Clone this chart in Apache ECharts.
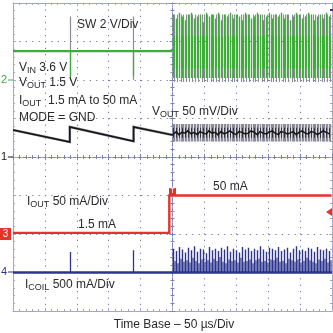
<!DOCTYPE html>
<html><head><meta charset="utf-8">
<script src="https://cdn.jsdelivr.net/npm/echarts@6/dist/echarts.min.js"></script>
<style>html,body{margin:0;padding:0;background:#fff}#c{width:333px;height:333px}</style>
</head><body><div id="c"></div>
<script>
// ---- scope settings (time in µs relative to trigger, 50 µs/div) ----
const timeMin = -250, timeMax = 250, timePerDiv = 50;
const swVPerDiv = 2, swPosDiv = 2;          // CH2 SW
const voutMvPerDiv = 50, voutPosDiv = 0;    // CH1 VOUT (AC)
const ioutMaPerDiv = 50, ioutPosDiv = -2;   // CH3 IOUT
const icoilMaPerDiv = 500, icoilPosDiv = -3;// CH4 ICOIL

// ---- SW node (V) ----
const swPreT = [-250, 0];
const swPreV = [1.5, 1.5];
const swPreSpikeT = [-161, -61];
const swPreSpikeLo = 0, swPreSpikeHi = 3.3;   // grey persistence spike
const swPreDipLo = 0.2, swPreDipHi = 1.5;     // green dip
const swGreenT = [1,6,10,15,20,24,29,34,39,43,48,53,57,62,67,71,76,81,86,90,95,100,104,109,114,119,123,128,133,137,142,147,151,156,161,166,170,175,180,184,189,194,198,203,208,213,217,222,227,231,236,241,246];
const swGreenTop = [3.4,3.2,3.5,3.3,3.1,3.4,3.5,3.2,3.3,3.4,3.0,3.5,3.3,3.4,3.2,3.5,3.1,3.4,3.3,3.5,3.2,3.4,3.3,3.1,3.5,3.4,3.2,3.3,3.5,3.4,3.1,3.3,3.5,3.2,3.4,3.3,3.5,3.2,3.4,3.1,3.3,3.5,3.4,3.2,3.3,3.5,3.4,3.1,3.3,3.4,3.2,3.5,3.3];
const swGreenLow = 0.1;
const swGrayT = [3,8,13,17,22,27,31,36,41,46,50,55,60,64,69,74,78,83,88,93,97,102,107,111,116,121,126,130,135,140,144,149,154,158,163,168,173,177,182,187,191,196,201,205,210,215,220,224,229,234,238,243,248];
const swGrayLo = -0.1, swGrayHi = 3.4;
const swRingLo = 0.6, swRingHi = 2.3;

// ---- VOUT ripple (mV, AC coupled) ----
const voutPreT = [-250, -161, -161, -61, -61, 0];
const voutPreV = [35, 19.5, 39, 20.5, 39, 28.5];
const voutPostV = [30,33,29,32,31,34,30,32,29,33,31,30,34,31,32,29,33,30,32,34,31,29,33,32,30,31,34,32,29,33,31,30,32,34,31,29,33,32,30,31,33,29,32,34,31,30,33,32,29,31,34,32,30];
const voutGrayLo = 20, voutGrayHi = 43;
const voutDarkLo = 25, voutDarkHi = 38;

// ---- IOUT (mA) ----
const ioutT = [-250, -5, -5, 249];
const ioutV = [1.5, 1.5, 50, 50];

// ---- ICOIL (mA) ----
const icoilPreT = [-250, 0];
const icoilPreV = [0, 0];
const icoilPreSpikeT = [-161, -61];
const icoilPreSpikeV = [266, 290];
const icoilPeak = [310,280,330,300,260,320,290,340,270,310,300,250,330,290,310,280,320,300,340,270,310,290,260,330,300,320,280,310,290,340,300,270,320,310,290,330,280,300,320,260,310,340,290,300,280,320,310,270,330,300,290,310,280];
const icoilLow = [150,120,180,140,160,130,190,150,120,170,140,160,130,180,150,200,140,120,170,150,160,130,190,140,150,170,120,160,180,140,150,130,170,160,190,140,150,120,180,160,140,170,130,150,190,160,140,120,170,150,180,130,160];

// ---- labels ----
const xTitle = 'Time Base – 50 µs/Div';

// ---------------------------------------------------------------
const FONT = '"Liberation Sans", Arial, sans-serif';
const gridC = '#6f75ab', borderC = '#a3a7c9', centerC = '#7d82b4';
const GREEN = '#3fab38', GRAY = '#8c8c98', BLACK = '#151515', RED = '#e5332a', NAVY = '#2d3588', LBLUE = '#5c64ab', TXT = '#2a2a2a';

const zip = (a, b) => a.map((t, i) => [t, b[i]]);
const pick = (v, i) => Array.isArray(v) ? v[i] : v;
const pulses = (ts, lo, hi) => ts.map((t, i) => ({ coords: [[t, pick(lo, i)], [t, pick(hi, i)]] }));

function chRange(perDiv, posDiv) { return { min: (-4 - posDiv) * perDiv, max: (4 - posDiv) * perDiv }; }

const borderX = (pos) => ({
  type: 'value', min: timeMin, max: timeMax, interval: timePerDiv, position: pos,
  axisLine: { show: true, onZero: false, lineStyle: { color: borderC, width: 1 } },
  axisTick: { show: true, inside: true, length: 3, lineStyle: { color: borderC } },
  minorTick: { show: true, splitNumber: 5, length: 2, lineStyle: { color: borderC } },
  axisLabel: { show: false }, splitLine: { show: false }
});
const centerX = (inside) => ({
  type: 'value', min: timeMin, max: timeMax, interval: timePerDiv, position: 'bottom',
  axisLine: { show: true, onZero: true, onZeroAxisIndex: 0, lineStyle: { color: centerC, width: 1, type: [3, 2] } },
  axisTick: { show: true, inside: inside, length: 3, lineStyle: { color: centerC } },
  minorTick: { show: true, splitNumber: 5, length: 2, lineStyle: { color: centerC } },
  axisLabel: { show: false }, splitLine: { show: false }
});
const borderY = (pos) => ({
  type: 'value', min: -4, max: 4, interval: 1, position: pos,
  axisLine: { show: true, onZero: false, lineStyle: { color: borderC, width: 1 } },
  axisTick: { show: true, inside: true, length: 3, lineStyle: { color: borderC } },
  minorTick: { show: true, splitNumber: 5, length: 2, lineStyle: { color: borderC } },
  axisLabel: { show: false }, splitLine: { show: false }
});
const centerY = (inside) => ({
  type: 'value', min: -4, max: 4, interval: 1, position: 'left',
  axisLine: { show: true, onZero: true, onZeroAxisIndex: 0, lineStyle: { color: centerC, width: 1, type: [3, 2] } },
  axisTick: { show: true, inside: inside, length: 3, lineStyle: { color: centerC } },
  minorTick: { show: true, splitNumber: 5, length: 2, lineStyle: { color: centerC } },
  axisLabel: { show: false }, splitLine: { show: false }
});
const hiddenY = (r) => ({ type: 'value', show: false, min: r.min, max: r.max, position: 'left', axisLine: { onZero: false } });

// grid (dotted division lines) on their own axes
const gridX = {
  type: 'value', min: timeMin, max: timeMax, interval: timePerDiv, position: 'bottom',
  axisLine: { show: false, onZero: false }, axisTick: { show: false }, axisLabel: { show: false },
  splitLine: { show: true, lineStyle: { color: gridC, width: 1, type: [1.2, 5.2] } }
};
const gridY = {
  type: 'value', min: -4, max: 4, interval: 1, position: 'left',
  axisLine: { show: false, onZero: false }, axisTick: { show: false }, axisLabel: { show: false },
  splitLine: { show: true, lineStyle: { color: gridC, width: 1, type: [1.2, 5.2] } }
};

const lineS = (data, yIdx, color, width, z) => ({
  type: 'line', data, xAxisIndex: 0, yAxisIndex: yIdx, showSymbol: false, symbol: 'none',
  lineStyle: { color, width, join: 'miter' }, silent: true, z: z || 2
});
const linesS = (data, yIdx, color, width, z) => ({
  type: 'lines', coordinateSystem: 'cartesian2d', xAxisIndex: 0, yAxisIndex: yIdx, polyline: false,
  data, lineStyle: { color, width, opacity: 1, curveness: 0 }, silent: true, z: z || 2, effect: { show: false }
});

const SW = 4, VO = 5, IO = 6, IC = 7;

const rich = {
  m: { fontSize: 12, lineHeight: 14, fontFamily: FONT, fill: TXT, color: TXT },
  s: { fontSize: 9, lineHeight: 6, verticalAlign: 'bottom', fontFamily: FONT, fill: TXT, color: TXT }
};
const txt = (x, y, text, extra) => Object.assign({
  type: 'text', x, y, z: 100, silent: true,
  style: Object.assign({ text, rich, font: '12px ' + FONT, fill: TXT, verticalAlign: 'middle', align: 'left' }, extra || {})
});

const option = {
  animation: false,
  backgroundColor: '#ffffff',
  grid: { left: 13, right: 1, top: 3, bottom: 22, containLabel: false },
  xAxis: [borderX('bottom'), borderX('top'), centerX(true), centerX(false), gridX],
  yAxis: [borderY('left'), borderY('right'), centerY(true), centerY(false),
    hiddenY(chRange(swVPerDiv, swPosDiv)), hiddenY(chRange(voutMvPerDiv, voutPosDiv)),
    hiddenY(chRange(ioutMaPerDiv, ioutPosDiv)), hiddenY(chRange(icoilMaPerDiv, icoilPosDiv)), gridY],
  series: [
    // SW
    linesS(pulses(swGrayT, swGrayLo, swGrayHi), SW, GRAY, 1.1, 3),
    linesS(pulses(swPreSpikeT, swPreSpikeLo, swPreSpikeHi), SW, GRAY, 1.2, 3),
    lineS(zip(swPreT, swPreV), SW, GREEN, 2.4, 4),
    linesS(pulses(swPreSpikeT, swPreDipLo, swPreDipHi), SW, GREEN, 1.3, 4),
    linesS(pulses(swGreenT, swGreenLow, swGreenTop), SW, GREEN, 1.4, 4),
    linesS(pulses(swGrayT, swRingLo, swRingHi), SW, GREEN, 1, 4),
    // VOUT
    linesS(pulses(swGrayT, voutGrayLo, voutGrayHi), VO, GRAY, 1.3, 5),
    linesS(pulses(swGreenT, voutGrayLo, voutGrayHi), VO, GRAY, 1.3, 5),
    linesS(pulses(swGreenT, voutDarkLo, voutDarkHi), VO, '#333340', 1, 6),
    lineS(zip(voutPreT, voutPreV), VO, GRAY, 2.6, 5),
    lineS(zip(voutPreT, voutPreV).concat(zip(swGreenT, voutPostV)), VO, BLACK, 1.5, 6),
    // IOUT
    lineS(zip(ioutT, ioutV), IO, RED, 2.4, 7),
    // ICOIL
    linesS(pulses(swGrayT, 0, icoilLow), IC, LBLUE, 1.5, 8),
    linesS(pulses(swGreenT, 0, icoilPeak), IC, NAVY, 1.4, 8),
    linesS(pulses(icoilPreSpikeT, 0, icoilPreSpikeV), IC, NAVY, 1.3, 8),
    lineS(zip(icoilPreT, icoilPreV).concat([[timeMax, 0]]), IC, NAVY, 2.6, 9)
  ],
  graphic: [
    txt(77, 25, 'SW 2 V/Div'),
    txt(19, 68, '{m|V}{s|IN}{m| 3.6 V}'),
    txt(19, 83, '{m|V}{s|OUT}{m| 1.5 V}'),
    txt(19, 101, '{m|I}{s|OUT}{m|  1.5 mA to 50 mA}'),
    txt(19, 118, 'MODE = GND'),
    txt(152, 112, '{m|V}{s|OUT}{m| 50 mV/Div}'),
    txt(27, 202, '{m|I}{s|OUT}{m| 50 mA/Div}'),
    txt(78, 225, '1.5 mA'),
    txt(213, 187, '50 mA'),
    txt(25, 285, '{m|I}{s|COIL}{m| 500 mA/Div}'),
    txt(174, 325, xTitle, { align: 'center' }),
    // channel markers
    { type: 'text', x: 1, y: 80, z: 100, silent: true, style: { text: '2', font: '11px ' + FONT, fill: GREEN, verticalAlign: 'middle' } },
    { type: 'line', z: 100, silent: true, shape: { x1: 8, y1: 80, x2: 13, y2: 80 }, style: { stroke: GREEN, lineWidth: 1 } },
    { type: 'text', x: 1, y: 157, z: 100, silent: true, style: { text: '1', font: '11px ' + FONT, fill: BLACK, verticalAlign: 'middle' } },
    { type: 'line', z: 100, silent: true, shape: { x1: 8, y1: 157, x2: 13, y2: 157 }, style: { stroke: BLACK, lineWidth: 1 } },
    { type: 'rect', z: 100, silent: true, shape: { x: 0, y: 228, width: 11, height: 12 }, style: { fill: RED } },
    { type: 'text', x: 5.5, y: 234, z: 101, silent: true, style: { text: '3', font: '10px ' + FONT, fill: '#fff', align: 'center', verticalAlign: 'middle' } },
    { type: 'text', x: 1, y: 272, z: 100, silent: true, style: { text: '4', font: '11px ' + FONT, fill: NAVY, verticalAlign: 'middle' } },
    { type: 'line', z: 100, silent: true, shape: { x1: 8, y1: 272, x2: 13, y2: 272 }, style: { stroke: NAVY, lineWidth: 1 } },
    // trigger markers
    { type: 'polygon', z: 100, silent: true, shape: { points: [[332, 208], [326, 212], [332, 216]] }, style: { fill: RED } },
    { type: 'rect', z: 100, silent: true, shape: { x: 169, y: 188, width: 7, height: 7 }, style: { fill: RED } },
    { type: 'text', x: 172.5, y: 191.5, z: 101, silent: true, style: { text: 'T', font: '7px ' + FONT, fill: '#fff', align: 'center', verticalAlign: 'middle' } },
    { type: 'rect', z: 100, silent: true, shape: { x: 330, y: 9, width: 3, height: 2 }, style: { fill: NAVY } }
  ]
};

const chart = echarts.init(document.getElementById('c'), null, { renderer: 'canvas', width: 333, height: 333 });
chart.setOption(option);
</script>
</body></html>
